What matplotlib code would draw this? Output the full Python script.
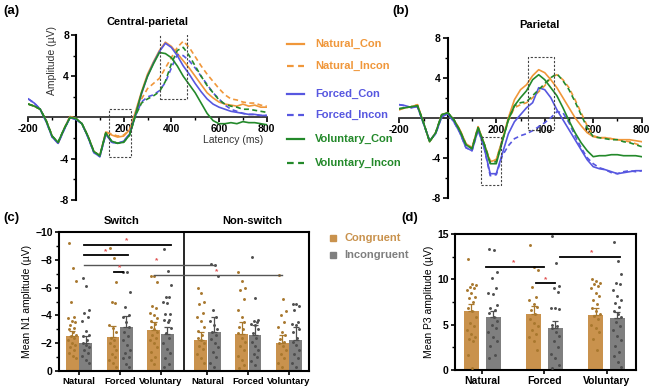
import numpy as np
import matplotlib
matplotlib.use("Agg")
import matplotlib.pyplot as plt
from matplotlib.patches import Rectangle

plt.rcParams['font.family'] = ['Liberation Sans', 'DejaVu Sans']
plt.rcParams['font.weight'] = 'bold'

W, H = 650, 388

# ---------------- ERP data (latency in ms, amplitude in uV) ----------------
latency = np.arange(-200, 801, 25)

cp_natural_con = [1.3, 1.1, 0.8, -0.3, -1.8, -2.5, -1.1, 0.1, -0.1, -0.6, -1.8, -3.3, -3.7, -1.4, -1.7, -1.9,
                  -1.8, -1.2, 0.6, 2.5, 4.2, 5.4, 6.5,
                  7.3, 6.9, 6.2, 5.5, 4.8, 4.0, 3.2, 2.4, 1.9, 1.5, 1.3, 1.2, 1.1, 1.3, 1.1, 1.2, 1.0, 1.0]
cp_natural_incon = [1.3, 1.1, 0.8, -0.3, -1.8, -2.5, -1.1, 0.1, -0.1, -0.6, -1.8, -3.3, -3.7, -1.4, -1.6, -1.8,
                    -1.7, -1.2, 0.4, 1.8, 2.8, 3.3, 3.8,
                    4.8, 5.8, 6.8, 7.4, 6.8, 5.9, 5.0, 4.2, 3.5, 2.8, 2.2, 1.8, 1.7, 1.5, 1.4, 1.4, 1.2, 1.1]
cp_forced_con = [1.8, 1.4, 0.8, -0.4, -1.9, -2.5, -1.2, 0.0, -0.2, -0.6, -1.9, -3.4, -3.8, -1.6, -2.4, -2.5,
                 -2.3, -1.6, 0.3, 2.3, 4.0, 5.3, 6.4,
                 7.2, 6.8, 6.0, 5.0, 4.2, 3.3, 2.5, 1.8, 1.3, 1.0, 0.8, 0.6, 0.5, 0.4, 0.3, 0.3, 0.2, 0.2]
cp_forced_incon = [1.8, 1.4, 0.8, -0.4, -1.9, -2.5, -1.2, 0.0, -0.2, -0.6, -1.9, -3.4, -3.8, -1.6, -2.4, -2.5,
                   -2.3, -1.6, 0.2, 1.5, 2.0, 2.2, 2.6,
                   3.4, 4.8, 6.1, 6.0, 5.5, 4.8, 4.0, 3.2, 2.4, 1.8, 1.2, 0.8, 0.6, 0.4, 0.3, 0.3, 0.2, 0.2]
cp_voluntary_con = [1.3, 1.1, 0.8, -0.3, -1.8, -2.4, -1.1, 0.0, -0.1, -0.6, -1.8, -3.3, -3.7, -1.5, -2.3, -2.5,
                    -2.4, -1.7, 0.3, 2.4, 4.0, 5.2, 6.3,
                    6.2, 5.8, 5.0, 4.0, 3.2, 2.4, 1.4, 0.4, -0.3, -0.6, -0.6, -0.5, -0.6, -0.4, -0.5, -0.5, -0.6, -0.7]
cp_voluntary_incon = [1.3, 1.1, 0.8, -0.3, -1.8, -2.4, -1.1, 0.0, -0.1, -0.6, -1.8, -3.3, -3.7, -1.5, -2.3, -2.5,
                      -2.4, -1.7, 0.2, 1.4, 1.8, 2.1, 2.5,
                      3.5, 5.2, 6.5, 6.8, 6.0, 5.0, 4.0, 3.1, 2.4, 1.7, 1.3, 1.1, 1.0, 0.8, 0.8, 0.7, 0.6, 0.5]

p_natural_con = [0.8, 1.0, 1.1, 1.3, -0.5, -2.4, -1.5, 0.3, 0.5, -0.2, -1.2, -2.6, -3.0, -0.9, -2.6, -4.4,
                 -4.2, -2.2, 0.0, 1.8, 2.8, 3.3, 4.2,
                 4.8, 4.5, 3.8, 3.0, 2.0, 1.0, 0.0, -0.8, -1.5, -1.9, -2.0, -2.0, -2.1, -2.2, -2.2, -2.2, -2.3, -2.4]
p_natural_incon = [0.8, 1.0, 1.1, 1.3, -0.5, -2.4, -1.5, 0.3, 0.5, -0.2, -1.2, -2.6, -3.0, -0.9, -2.6, -4.3,
                   -4.2, -2.3, -0.3, 1.0, 1.3, 1.5, 2.0,
                   2.6, 3.2, 4.0, 4.3, 3.8, 3.0, 1.8, 0.5, -0.8, -1.8, -2.0, -2.0, -2.1, -2.2, -2.3, -2.4, -2.6, -2.8]
p_forced_con = [1.3, 1.2, 1.0, 1.1, -0.6, -2.3, -1.6, 0.1, 0.4, -0.4, -1.5, -3.0, -3.3, -1.2, -3.0, -5.6,
                -5.6, -3.6, -1.6, -0.4, 0.3, 1.0, 1.5,
                3.0, 2.8, 2.0, 0.8, -0.2, -1.2, -2.2, -3.2, -4.2, -4.9, -5.1, -5.2, -5.4, -5.6, -5.5, -5.4, -5.3, -5.3]
p_forced_incon = [1.3, 1.2, 1.0, 1.1, -0.6, -2.3, -1.6, 0.1, 0.4, -0.4, -1.5, -3.0, -3.3, -1.2, -3.0, -5.8,
                  -5.7, -3.8, -2.8, -2.1, -1.8, -1.6, -1.3,
                  -0.9, -0.5, 0.0, 0.6, 0.5, -0.5, -1.8, -3.0, -4.0, -4.6, -5.0, -5.2, -5.5, -5.6, -5.4, -5.3, -5.4, -5.3]
p_voluntary_con = [0.9, 1.0, 1.1, 1.2, -0.5, -2.4, -1.5, 0.3, 0.5, -0.2, -1.3, -2.7, -3.1, -1.0, -2.6, -4.6,
                   -4.6, -2.4, -0.2, 1.2, 2.0, 2.7, 3.8,
                   4.3, 3.8, 3.0, 2.2, 1.0, -0.3, -1.5, -2.5, -3.3, -3.9, -3.8, -3.8, -3.7, -3.7, -3.8, -3.8, -3.8, -3.9]
p_voluntary_incon = [0.9, 1.0, 1.1, 1.2, -0.5, -2.4, -1.5, 0.3, 0.5, -0.2, -1.3, -2.7, -3.1, -1.0, -2.6, -4.5,
                     -4.4, -2.3, -0.2, 1.2, 1.5, 1.6, 2.2,
                     2.8, 3.4, 4.0, 4.4, 3.7, 2.8, 1.6, 0.3, -1.0, -1.9, -2.0, -2.1, -2.2, -2.2, -2.4, -2.5, -2.7, -2.9]

conditions = ["Natural_Con", "Natural_Incon", "Forced_Con", "Forced_Incon", "Voluntary_Con", "Voluntary_Incon"]
cp_series = [cp_natural_con, cp_natural_incon, cp_forced_con, cp_forced_incon, cp_voluntary_con, cp_voluntary_incon]
p_series = [p_natural_con, p_natural_incon, p_forced_con, p_forced_incon, p_voluntary_con, p_voluntary_incon]

# ---------------- N1 data (panel c), shown as negative uV ----------------
n1_groups = ["Natural", "Forced", "Voluntary", "Natural", "Forced", "Voluntary"]
n1_con_mean = [2.5, 2.45, 2.95, 2.25, 2.65, 2.05]
n1_incon_mean = [2.0, 3.15, 2.65, 2.8, 2.6, 2.2]
n1_con_err = [0.4, 0.8, 0.6, 0.55, 0.9, 0.55]
n1_incon_err = [0.5, 0.8, 0.5, 1.1, 0.7, 1.0]
n1_con_dots = [
    [9.2, 7.4, 6.5, 5.0, 3.9, 3.8, 3.6, 3.5, 3.3, 3.1, 3.0, 2.8, 2.6, 2.5, 2.4, 2.2, 2.0, 1.9, 1.7, 1.5, 1.3, 1.1, 0.9],
    [8.85, 8.1, 6.4, 5.0, 4.9, 3.3, 3.1, 2.8, 2.4, 2.2, 2.0, 1.8, 1.5, 1.2, 1.0, 0.8, 0.6, 0.3],
    [6.85, 6.85, 6.4, 4.7, 4.5, 4.2, 4.0, 3.8, 3.6, 3.4, 3.2, 3.0, 2.8, 2.6, 2.4, 2.2, 2.0, 1.7, 1.4, 1.0, 0.8, 0.5],
    [5.95, 5.6, 5.0, 4.8, 4.2, 3.9, 3.6, 3.2, 2.85, 2.6, 2.4, 2.25, 2.0, 1.8, 1.55, 1.2, 0.95, 0.6],
    [7.15, 6.45, 6.0, 5.8, 5.2, 4.4, 3.9, 3.5, 3.2, 3.0, 2.7, 2.4, 2.1, 1.8, 1.5, 1.1, 0.8, 0.4, 0.2],
    [6.9, 5.2, 4.3, 4.0, 3.5, 3.2, 2.8, 2.6, 2.3, 2.1, 2.0, 1.8, 1.5, 1.2, 0.9, 0.6, 0.3],
]
n1_incon_dots = [
    [6.7, 6.1, 4.4, 4.2, 3.9, 3.6, 2.9, 2.6, 2.5, 2.2, 2.0, 1.9, 1.7, 1.5, 1.3, 1.1, 0.8, 0.6],
    [7.1, 7.1, 5.65, 4.6, 4.0, 3.9, 3.5, 3.2, 2.8, 2.5, 2.2, 1.9, 1.5, 1.3, 1.0, 0.9, 0.5, 0.3],
    [8.8, 7.2, 6.2, 5.3, 5.3, 5.0, 4.9, 4.1, 4.1, 3.7, 3.7, 3.5, 3.1, 2.7, 2.4, 2.0, 1.6, 1.3, 0.9, 0.5, 0.3],
    [7.7, 7.6, 6.8, 4.4, 3.9, 3.6, 3.3, 3.0, 2.8, 2.6, 2.3, 2.0, 1.7, 1.4, 1.0, 0.6, 0.3],
    [8.2, 5.25, 3.7, 3.6, 3.5, 3.4, 3.3, 3.0, 2.7, 2.4, 2.1, 1.8, 1.5, 1.2, 1.0, 0.7, 0.4],
    [4.8, 4.8, 4.7, 4.4, 3.5, 3.4, 3.3, 3.0, 2.8, 2.4, 2.1, 1.9, 1.5, 1.2, 0.9, 0.6, 0.3],
]

# ---------------- P3 data (panel d) ----------------
p3_groups = ["Natural", "Forced", "Voluntary"]
p3_con_mean = [6.55, 6.2, 6.1]
p3_incon_mean = [5.9, 4.6, 5.75]
p3_con_err = [0.7, 0.9, 0.7]
p3_incon_err = [0.6, 0.8, 0.6]
p3_con_dots = [
    [12.2, 9.5, 9.4, 9.2, 9.0, 8.8, 8.5, 8.1, 7.9, 7.5, 6.8, 6.5, 5.9, 5.2, 4.8, 4.4, 4.0, 3.6, 3.4, 3.2, 1.7, 0.2],
    [13.8, 11.4, 11.0, 9.2, 8.0, 7.7, 7.3, 7.0, 6.6, 6.2, 5.6, 5.2, 4.8, 4.4, 4.0, 3.6, 3.2, 2.2],
    [10.0, 9.8, 9.6, 9.5, 9.3, 9.0, 8.5, 8.2, 7.7, 7.3, 6.8, 6.5, 6.2, 6.0, 5.6, 5.0, 4.6, 4.2, 3.4, 2.2],
]
p3_incon_dots = [
    [13.3, 13.2, 10.8, 10.2, 9.0, 8.5, 8.4, 7.2, 6.8, 6.6, 6.3, 5.8, 5.4, 5.0, 4.6, 4.2, 3.6, 3.2, 2.6, 1.6, 1.3],
    [14.8, 11.8, 9.3, 9.0, 8.6, 6.8, 6.8, 6.7, 5.0, 4.8, 4.6, 4.2, 3.8, 3.2, 2.5, 1.8, 1.3, 0.5, 0.2],
    [14.1, 12.0, 10.6, 9.6, 9.5, 8.8, 8.2, 7.7, 7.4, 7.0, 6.5, 6.2, 5.8, 5.3, 4.8, 4.4, 3.8, 3.3, 2.7, 2.0, 1.5, 0.9, 0.3],
]

# ---------------- styles ----------------
c_nat, c_for, c_vol = "#F0973A", "#5757E0", "#23892A"
line_colors = [c_nat, c_nat, c_for, c_for, c_vol, c_vol]
line_styles = ["-", (0, (3, 2)), "-", (0, (3, 2)), "-", (0, (3, 2))]
bar_con, bar_incon = "#C9924D", "#7F7F7F"
dot_con, dot_incon = "#A8782E", "#4F4F4F"


def px_axes(left, top, right, bottom):
    return fig.add_axes([left / W, 1 - bottom / H, (right - left) / W, (bottom - top) / H])


fig = plt.figure(figsize=(6.5, 3.88), dpi=100)


def erp_axes(ax, series, n1_box, p3_box):
    for s, col, ls in zip(series, line_colors, line_styles):
        ax.plot(latency, s, color=col, ls=ls, lw=1.2, zorder=3)
    for (x0, x1, y0, y1) in (n1_box, p3_box):
        ax.add_patch(Rectangle((x0, y0), x1 - x0, y1 - y0, fill=False, ls=(0, (2, 1.5)),
                               lw=0.8, ec="#444444", zorder=4))
    ax.set_xlim(-200, 800)
    ax.set_ylim(-8, 8)
    ax.spines["left"].set_position(("data", 0))
    ax.spines["bottom"].set_position(("data", 0))
    ax.spines["top"].set_visible(False)
    ax.spines["right"].set_visible(False)
    ax.spines["left"].set_linewidth(1.5)
    ax.spines["bottom"].set_linewidth(1.3)
    ax.spines["bottom"].set_color("#333333")
    ax.set_xticks([-200, 0, 200, 400, 600, 800])
    ax.set_xticklabels(["-200", "", "200", "400", "600", "800"])
    ax.set_xticks(np.arange(-100, 800, 200), minor=True)
    ax.set_yticks([-8, -4, 0, 4, 8])
    ax.set_yticklabels(["-8", "-4", "", "4", "8"])
    ax.set_yticks([-6, -2, 2, 6], minor=True)
    ax.tick_params(axis="both", which="major", labelsize=7.5, length=3.5, width=1.2, pad=1.5)
    ax.tick_params(axis="both", which="minor", length=2.5, width=1.0)
    ax.patch.set_visible(False)


ax_a = px_axes(28.3, 35, 266.7, 200)
erp_axes(ax_a, cp_series, (139, 231, -3.8, 0.8), (354, 465, 1.8, 8.3))
ax_a.text(300, 9.3, "Central-parietal", ha="center", va="center", fontsize=8)
ax_a.text(-100, 5.5, "Amplitude (\u00b5V)", rotation=90, ha="center", va="center",
          fontsize=7.5, fontweight="normal", color="#333333")
ax_a.text(660, -2.2, "Latency (ms)", ha="center", va="center", fontsize=7.5,
          fontweight="normal", color="#333333")

ax_b = px_axes(399.3, 37.7, 641.7, 197.7)
erp_axes(ax_b, p_series, (136, 220, -6.7, -1.9), (333, 437, -1.25, 6.1))
ax_b.text(380, 9.3, "Parietal", ha="center", va="center", fontsize=8)

fig.text(3 / W, 1 - 11 / H, "(a)", fontsize=9.5, va="center")
fig.text(392 / W, 1 - 11 / H, "(b)", fontsize=9.5, va="center")
fig.text(3 / W, 1 - 218 / H, "(c)", fontsize=9.5, va="center")
fig.text(401 / W, 1 - 218 / H, "(d)", fontsize=9.5, va="center")

# legend for the ERP panels
ax_leg = px_axes(280, 30, 398, 175)
ax_leg.set_xlim(280, 398)
ax_leg.set_ylim(175, 30)
ax_leg.axis("off")
leg_y = [44, 66, 94, 115, 139, 163]
for name, col, ls, yy in zip(conditions, line_colors, line_styles, leg_y):
    ax_leg.plot([287, 304], [yy, yy], color=col, ls=ls, lw=1.6)
    ax_leg.text(315, yy, name, color=col, fontsize=8, va="center", ha="left")


def dot_offsets(n, half):
    pattern = np.array([-0.6, 0.1, 0.65, -0.25, 0.4, -0.75, 0.0, 0.55, -0.45, 0.25])
    return np.resize(pattern, n) * half


def bar_panel(ax, centers, con_mean, incon_mean, con_err, incon_err, con_dots, incon_dots,
              off, width, sign):
    for i, xc in enumerate(centers):
        for m, e, dots, dx, bc, dc in ((con_mean[i], con_err[i], con_dots[i], -off, bar_con, dot_con),
                                       (incon_mean[i], incon_err[i], incon_dots[i], off, bar_incon, dot_incon)):
            x = xc + dx
            ax.bar(x, sign * m, width=width, color=bc, zorder=2)
            ax.errorbar(x, sign * m, yerr=[[0], [e]] if sign > 0 else [[e], [0]], color=dc,
                        lw=0.9, capsize=2.2, capthick=0.9, zorder=3)
            d = np.array(dots)
            ax.scatter(x + dot_offsets(len(d), width * 0.42), sign * d, s=4.5, color=dc,
                       lw=0, zorder=4)
    for sp in ax.spines.values():
        sp.set_linewidth(1.5)
    ax.tick_params(axis="both", which="major", labelsize=7.5, length=3, width=1.2, pad=1.5)
    ax.tick_params(axis="y", which="minor", length=2, width=1.0)


def sig(ax, x0, x1, y, xs, ys, col="black", lw=1.3):
    ax.plot([x0, x1], [y, y], color=col, lw=lw, zorder=5)
    ax.text(xs, ys, "*", color="#E05050", fontsize=6, ha="center", va="center", zorder=6)


# panel c
ax_c = px_axes(59, 232, 309, 371)
n1_x = np.array([0, 1, 2, 3.15, 4.15, 5.15])
bar_panel(ax_c, n1_x, n1_con_mean, n1_incon_mean, n1_con_err, n1_incon_err,
          n1_con_dots, n1_incon_dots, 0.165, 0.31, -1)
ax_c.set_xlim(-0.49, 5.64)
ax_c.set_ylim(0, -10)
ax_c.set_yticks(np.arange(0, -11, -2))
ax_c.set_yticks(np.arange(0, -11, -1), minor=True)
ax_c.set_xticks(n1_x)
ax_c.set_xticklabels(n1_groups)
ax_c.tick_params(axis="x", labelsize=6.8)
ax_c.axvline(2.57, color="black", lw=1.2)
ax_c.set_ylabel("Mean N1 amplitude (\u00b5V)", fontsize=7.5, labelpad=2)
sig(ax_c, 0.13, 2.25, -9.1, 1.17, -9.35)
sig(ax_c, 0.13, 1.19, -8.35, 0.66, -8.6)
sig(ax_c, 0.13, 3.33, -7.65, 1.9, -7.9, col="#555555", lw=1.0)
sig(ax_c, 0.87, 1.09, -7.15, 0.99, -7.4)
sig(ax_c, 1.85, 4.98, -6.88, 3.37, -7.15, col="#555555", lw=1.0)
ax_c.text(1.05, -10.45, "Switch", ha="center", va="bottom", fontsize=8)
ax_c.text(4.25, -10.45, "Non-switch", ha="center", va="bottom", fontsize=8)

# legend for bar panels
fig.patches.append(Rectangle((330 / W, 1 - 241 / H), 6 / W, 6 / H, color=bar_con,
                             transform=fig.transFigure, figure=fig))
fig.patches.append(Rectangle((330 / W, 1 - 258 / H), 6 / W, 6 / H, color=bar_incon,
                             transform=fig.transFigure, figure=fig))
fig.text(344 / W, 1 - 238 / H, "Congruent", color=bar_con, fontsize=8, va="center")
fig.text(344 / W, 1 - 255 / H, "Incongruent", color=bar_incon, fontsize=8, va="center")

# panel d
ax_d = px_axes(455, 234, 635.7, 370)
p3_x = np.arange(len(p3_groups))
bar_panel(ax_d, p3_x, p3_con_mean, p3_incon_mean, p3_con_err, p3_incon_err,
          p3_con_dots, p3_incon_dots, 0.175, 0.24, 1)
ax_d.set_xlim(-0.44, 2.47)
ax_d.set_ylim(0, 15)
ax_d.set_yticks([0, 5, 10, 15])
ax_d.set_yticks(np.arange(0, 15.1, 2.5), minor=True)
ax_d.set_xticks(p3_x)
ax_d.set_xticklabels(p3_groups)
ax_d.set_ylabel("Mean P3 amplitude (\u00b5V)", fontsize=7.5, labelpad=2)
sig(ax_d, 0.06, 0.99, 11.35, 0.51, 11.8)
sig(ax_d, 0.86, 1.17, 9.6, 1.02, 10.0)
sig(ax_d, 1.25, 2.21, 12.45, 1.76, 12.9)

fig.savefig("out.png", dpi=100)
